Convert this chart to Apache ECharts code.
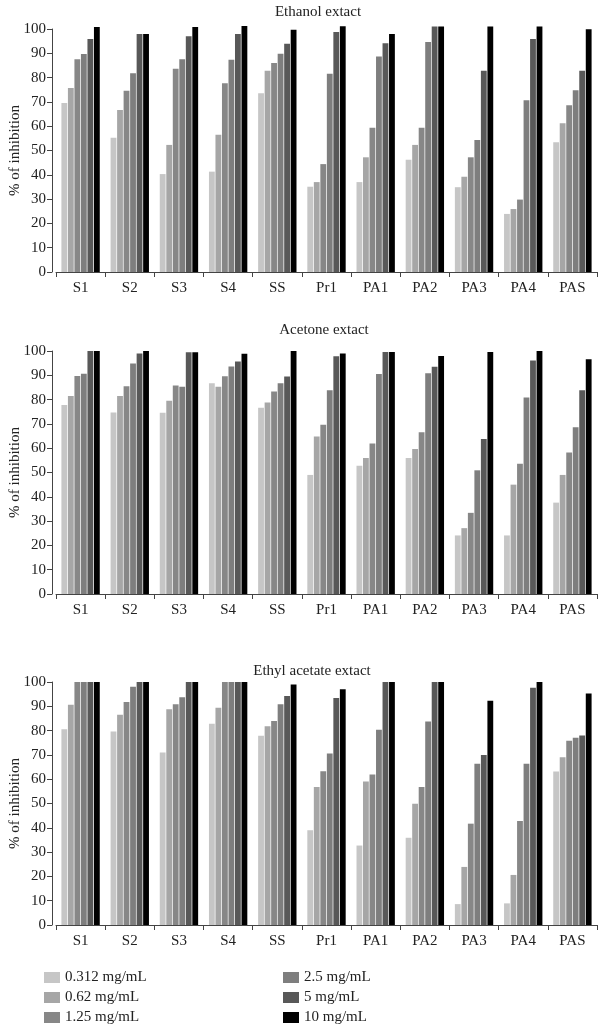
<!DOCTYPE html>
<html>
<head>
<meta charset="utf-8">
<script src="https://cdn.jsdelivr.net/npm/echarts@6/dist/echarts.min.js"></script>
<style>
  html, body { margin: 0; padding: 0; background: #fff; }
  #chart { width: 600px; height: 1027px; }
</style>
</head>
<body>
<div id="chart"></div>
<script>
  const categories = ['S1', 'S2', 'S3', 'S4', 'SS', 'Pr1', 'PA1', 'PA2', 'PA3', 'PA4', 'PAS'];
  const concentrations = ['0.312 mg/mL', '0.62 mg/mL', '1.25 mg/mL', '2.5 mg/mL', '5 mg/mL', '10 mg/mL'];
  const panelTitles = ['Ethanol extact', 'Acetone extact', 'Ethyl acetate extact'];

  // one row per concentration, one value per category
  const ethanol = [
    [69.5, 55.2, 40.3, 41.3, 73.6, 35.1, 37.0, 46.2, 34.9, 23.9, 53.4],
    [75.7, 66.7, 52.3, 56.5, 82.8, 37.0, 47.2, 52.3, 39.2, 25.9, 61.2],
    [87.6, 74.6, 83.6, 77.7, 86.0, 44.4, 59.4, 59.4, 47.2, 29.8, 68.6],
    [89.7, 81.8, 87.6, 87.3, 89.8, 81.6, 88.7, 94.6, 54.3, 70.7, 74.8],
    [95.9, 97.9, 97.0, 97.9, 93.9, 98.8, 94.1, 101.0, 82.8, 95.9, 82.8],
    [100.8, 97.9, 100.8, 101.2, 99.7, 101.1, 97.9, 101.0, 101.0, 101.0, 99.9]
  ];
  const acetone = [
    [77.8, 74.7, 74.6, 86.7, 76.6, 49.0, 52.8, 56.0, 24.1, 24.1, 37.6],
    [81.5, 81.5, 79.5, 85.3, 78.8, 64.8, 56.0, 59.7, 27.1, 45.0, 49.0],
    [89.7, 85.5, 85.8, 89.6, 83.3, 69.7, 61.9, 66.6, 33.4, 53.6, 58.2],
    [90.6, 94.9, 85.3, 93.6, 86.7, 83.8, 90.5, 90.8, 50.9, 80.9, 68.6],
    [100, 99.0, 99.5, 95.7, 89.5, 97.8, 99.6, 93.5, 63.8, 96.1, 83.8],
    [100, 100, 99.5, 98.9, 100, 99.0, 99.6, 97.9, 99.6, 100, 96.6]
  ];
  const ethylAcetate = [
    [80.6, 79.6, 71.0, 82.8, 77.9, 39.0, 32.7, 35.9, 8.6, 8.9, 63.2],
    [90.6, 86.5, 88.8, 89.4, 81.8, 56.8, 59.1, 49.9, 23.9, 20.6, 69.0],
    [100, 91.8, 90.8, 100, 84.0, 63.3, 61.9, 56.8, 41.7, 42.8, 75.8],
    [100, 98.0, 93.7, 100, 90.8, 70.6, 80.4, 83.7, 66.4, 66.4, 77.1],
    [100, 100, 100, 100, 94.2, 93.4, 100, 100, 70.0, 97.6, 78.0],
    [100, 100, 100, 100, 99.0, 97.0, 100, 100, 92.3, 100, 95.3]
  ];

  const colors = ['#c6c6c6', '#a6a6a6', '#878787', '#7e7e7e', '#585858', '#000000'];
  const font = '"Liberation Serif", "DejaVu Serif", serif';
  const panels = [ethanol, acetone, ethylAcetate];
  const gridTops = [29, 351, 682];
  const titleTops = [0, 318, 659];
  const titleLefts = [313, 319, 307];

  let chart = echarts.init(document.getElementById('chart'));

  let grids = [], xAxes = [], yAxes = [], titles = [], series = [];
  panels.forEach(function (panel, p) {
    titles.push({
      text: panelTitles[p],
      left: titleLefts[p],
      textAlign: 'center',
      top: titleTops[p],
      textStyle: { fontFamily: font, fontSize: 15, fontWeight: 'normal', color: '#222' }
    });
    grids.push({ left: 56, right: 3, top: gridTops[p], height: 243, outerBoundsMode: 'none', containLabel: false });
    xAxes.push({
      type: 'category',
      gridIndex: p,
      data: categories,
      axisLine: { lineStyle: { color: '#444', width: 1 } },
      axisTick: { show: true, length: 5, lineStyle: { color: '#444' } },
      axisLabel: { fontFamily: font, fontSize: 15, color: '#222', margin: 9 }
    });
    yAxes.push({
      type: 'value',
      gridIndex: p,
      min: 0,
      max: 100,
      interval: 10,
      offset: 4,
      name: '% of inhibition',
      nameLocation: 'middle',
      nameGap: 29,
      nameMoveOverlap: false,
      nameTextStyle: { fontFamily: font, fontSize: 15, color: '#222' },
      axisLine: { show: true, lineStyle: { color: '#444', width: 1 } },
      axisTick: { show: true, length: 5, lineStyle: { color: '#444' } },
      axisLabel: { fontFamily: font, fontSize: 15, color: '#222', margin: 6 },
      splitLine: { show: false }
    });
    panel.forEach(function (values, c) {
      series.push({
        name: concentrations[c],
        type: 'bar',
        xAxisIndex: p,
        yAxisIndex: p,
        data: values,
        clip: false,
        barGap: '12%',
        barCategoryGap: '22%',
        itemStyle: { color: colors[c] },
        emphasis: { disabled: true }
      });
    });
  });

  const legendBase = {
    orient: 'vertical',
    top: 970,
    height: 80,
    padding: 0,
    itemWidth: 16,
    itemHeight: 11,
    itemGap: 5,
    icon: 'rect',
    textStyle: { fontFamily: font, fontSize: 15, color: '#222' }
  };

  const option = {
    animation: false,
    color: colors,
    title: titles,
    grid: grids,
    xAxis: xAxes,
    yAxis: yAxes,
    legend: [
      Object.assign({}, legendBase, { left: 44, data: concentrations.slice(0, 3) }),
      Object.assign({}, legendBase, { left: 283, data: concentrations.slice(3) })
    ],
    series: series
  };

  chart.setOption(option);
</script>
</body>
</html>
